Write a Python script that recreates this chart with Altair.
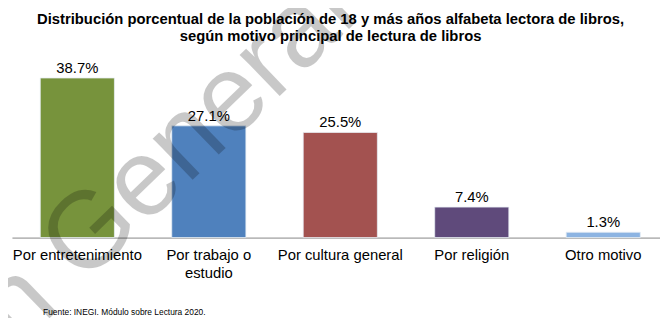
import altair as alt
import pandas as pd

categories = ["Por entretenimiento", "Por trabajo o\nestudio", "Por cultura general", "Por religión", "Otro motivo"]
values = [38.7, 27.1, 25.5, 7.4, 1.3]
labels = ["38.7%", "27.1%", "25.5%", "7.4%", "1.3%"]
colors = ["#77933C", "#4F81BD", "#A35250", "#5F4A7B", "#8DB4E2"]

title_lines = ["Distribución porcentual de la población de 18 y más años alfabeta lectora de libros,",
               "según motivo principal de lectura de libros"]
source_note = "Fuente: INEGI. Módulo sobre Lectura 2020."
watermark = "en General"

df = pd.DataFrame({"cat": categories, "val": values, "lab": labels, "col": colors})

FONT = "Liberation Sans, Arial, sans-serif"

xscale = alt.Scale(paddingInner=0.436, paddingOuter=0.1825, align=0.59)

x_bottom = alt.X("cat:N", sort=categories, scale=xscale,
          axis=alt.Axis(title=source_note, labelAngle=0, ticks=False,
                        labelFontSize=15, labelFont=FONT, labelColor="#000000",
                        labelPadding=10.5, labelLineHeight=18,
                        labelExpr="split(datum.label, '\\n')",
                        domainColor="#868686", domainWidth=1,
                        titleFont=FONT, titleFontSize=8.5, titleFontWeight="normal",
                        titleColor="#000000", titleAnchor="start", titleAlign="left",
                        titleBaseline="alphabetic", titleX=31, titleY=77.5))
x_top = alt.X("cat:N", sort=categories, scale=xscale,
          axis=alt.Axis(orient="top", title=title_lines, labels=False, ticks=False,
                        domain=False, titleFont=FONT, titleFontSize=15,
                        titleFontWeight="bold", titleColor="#000000",
                        titleAnchor="middle", titleAlign="center",
                        titleBaseline="alphabetic", titleLineHeight=17.5,
                        titleX=322, titleY=-50))
y = alt.Y("val:Q", scale=alt.Scale(domain=[0, 40]), axis=None)

bars = alt.Chart(df).mark_bar(stroke="#E8EEF5", strokeWidth=0.8).encode(
    x=x_bottom, y=y, color=alt.Color("col:N", scale=None))

text = alt.Chart(df).mark_text(baseline="alphabetic", dy=-5, fontSize=15, font=FONT,
                               color="#000000").encode(x=x_top, y=y, text="lab:N")

wm = alt.Chart(pd.DataFrame({"t": [watermark]})).mark_text(
    angle=316, fontSize=110, font=FONT, align="left", baseline="alphabetic",
    color="#000000", opacity=0.21, strokeWidth=1.5, stroke="#000000", strokeOpacity=0.0).encode(
    x=alt.value(-38), y=alt.value(322), text="t:N")

chart = alt.layer(bars, text, wm).resolve_axis(x="independent").properties(
    width=656, height=167,
    autosize=alt.AutoSizeParams(type="none"),
    padding={"left": 4, "top": 63.5, "right": 0, "bottom": 79.5},
).configure_view(stroke=None)

chart.save("out.html", embed_options={"renderer": "svg", "actions": False})
